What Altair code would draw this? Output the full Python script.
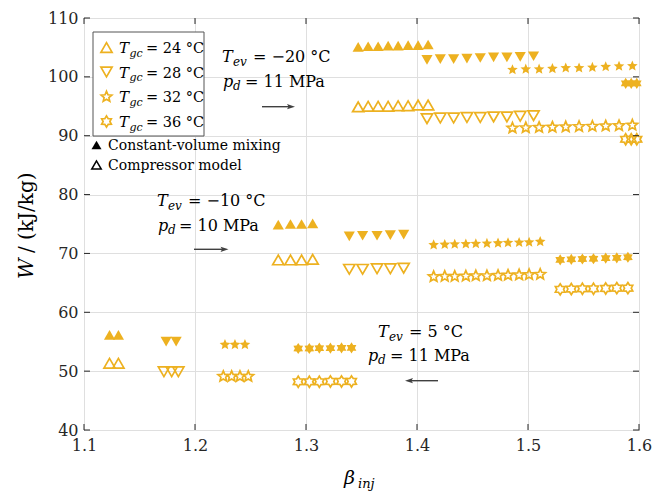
import math
import altair as alt
import pandas as pd

GOLD = "#EDB120"
INK = "#262626"
FONT = "DejaVu Serif"

# ---------------- data ----------------
TGC = ["24", "28", "32", "36"]

# T_ev = -20 °C, p_d = 11 MPa
b20_24 = [1.347, 1.356, 1.365, 1.374, 1.383, 1.392, 1.401, 1.410]
mix20_24 = [105.1, 105.2, 105.2, 105.3, 105.3, 105.4, 105.4, 105.5]
cmp20_24 = [94.9, 95.0, 95.0, 95.0, 95.1, 95.1, 95.2, 95.2]
b20_28 = [1.409, 1.421, 1.433, 1.445, 1.457, 1.469, 1.481, 1.493, 1.505]
mix20_28 = [102.9, 103.0, 103.0, 103.1, 103.2, 103.3, 103.3, 103.4, 103.5]
cmp20_28 = [92.9, 93.0, 93.0, 93.1, 93.1, 93.2, 93.2, 93.3, 93.4]
b20_32 = [1.486, 1.498, 1.510, 1.522, 1.534, 1.546, 1.558, 1.570, 1.582, 1.594]
mix20_32 = [101.2, 101.3, 101.3, 101.4, 101.5, 101.5, 101.6, 101.7, 101.8, 101.85]
cmp20_32 = [91.3, 91.35, 91.4, 91.45, 91.5, 91.55, 91.6, 91.65, 91.7, 91.8]
b20_36 = [1.588, 1.593, 1.598]
mix20_36 = [98.9, 98.9, 98.9]
cmp20_36 = [89.4, 89.4, 89.4]

# T_ev = -10 °C, p_d = 10 MPa
b10_24 = [1.275, 1.286, 1.296, 1.306]
mix10_24 = [74.9, 75.0, 75.0, 75.1]
cmp10_24 = [68.9, 68.9, 68.9, 69.0]
b10_28 = [1.339, 1.351, 1.364, 1.376, 1.388]
mix10_28 = [72.9, 73.0, 73.0, 73.1, 73.2]
cmp10_28 = [67.3, 67.3, 67.4, 67.4, 67.5]
b10_32 = [1.415, 1.425, 1.434, 1.444, 1.453, 1.463, 1.473, 1.482, 1.492, 1.501, 1.511]
mix10_32 = [71.45, 71.5, 71.55, 71.6, 71.65, 71.7, 71.75, 71.8, 71.85, 71.9, 72.0]
cmp10_32 = [66.05, 66.1, 66.1, 66.15, 66.2, 66.2, 66.25, 66.3, 66.35, 66.4, 66.45]
b10_36 = [1.529, 1.539, 1.549, 1.559, 1.570, 1.580, 1.590]
mix10_36 = [68.9, 69.0, 69.05, 69.1, 69.2, 69.25, 69.35]
cmp10_36 = [63.9, 63.95, 64.0, 64.0, 64.05, 64.1, 64.1]

# T_ev = 5 °C, p_d = 11 MPa
b5_24 = [1.123, 1.131]
mix5_24 = [56.15, 56.15]
cmp5_24 = [51.35, 51.35]
b5_28m = [1.174, 1.183]
mix5_28 = [55.0, 55.0]
b5_28c = [1.172, 1.179, 1.185]
cmp5_28 = [49.9, 49.9, 49.9]
b5_32m = [1.227, 1.236, 1.245]
mix5_32 = [54.5, 54.5, 54.5]
b5_32c = [1.2255, 1.233, 1.2405, 1.248]
cmp5_32 = [49.1, 49.1, 49.1, 49.1]
b5_36 = [1.293, 1.303, 1.312, 1.322, 1.332, 1.341]
mix5_36 = [53.85, 53.85, 53.9, 53.9, 53.95, 53.95]
cmp5_36 = [48.2, 48.2, 48.2, 48.25, 48.25, 48.25]

groups = [
    ("24", b20_24, mix20_24, b20_24, cmp20_24),
    ("28", b20_28, mix20_28, b20_28, cmp20_28),
    ("32", b20_32, mix20_32, b20_32, cmp20_32),
    ("36", b20_36, mix20_36, b20_36, cmp20_36),
    ("24", b10_24, mix10_24, b10_24, cmp10_24),
    ("28", b10_28, mix10_28, b10_28, cmp10_28),
    ("32", b10_32, mix10_32, b10_32, cmp10_32),
    ("36", b10_36, mix10_36, b10_36, cmp10_36),
    ("24", b5_24, mix5_24, b5_24, cmp5_24),
    ("28", b5_28m, mix5_28, b5_28c, cmp5_28),
    ("32", b5_32m, mix5_32, b5_32c, cmp5_32),
    ("36", b5_36, mix5_36, b5_36, cmp5_36),
]

X_TICKS = [1.1, 1.2, 1.3, 1.4, 1.5, 1.6]
Y_TICKS = [40, 50, 60, 70, 80, 90, 100, 110]

# ---------------- layout helpers ----------------
W, H = 555, 412
L, T = 84, 18


def dx(px):
    return 1.1 + (px - L) * 0.5 / W


def dy(py):
    return 110 - (py - T) * 70 / H


def star_path(n, r_in):
    pts = []
    for k in range(2 * n):
        ang = math.radians(-90 + k * 180 / n)
        r = 1.0 if k % 2 == 0 else r_in
        pts.append((r * math.cos(ang), r * math.sin(ang)))
    return "M" + "L".join(f"{x:.4f},{y:.4f}" for x, y in pts) + "Z"


STAR = star_path(5, 0.45)
HEX = star_path(6, 0.6)

mix_rows, cmp_rows = [], []
for tg, bm, wm, bc, wc in groups:
    for b, w in zip(bm, wm):
        mix_rows.append({"x": b, "y": w, "Tgc": tg})
    for b, w in zip(bc, wc):
        cmp_rows.append({"x": b, "y": w, "Tgc": tg})
df_mix = pd.DataFrame(mix_rows)
df_cmp = pd.DataFrame(cmp_rows)

xs = alt.Scale(domain=[1.1, 1.6], nice=False, zero=False)
ys = alt.Scale(domain=[40, 110], nice=False, zero=False)
shape_enc = alt.Shape("Tgc:N", scale=alt.Scale(domain=TGC, range=["triangle-up", "triangle-down", STAR, HEX]), legend=None)
size_enc = alt.Size("Tgc:N", scale=alt.Scale(domain=TGC, range=[125, 125, 250, 225]), legend=None)

x_axis = alt.Axis(values=X_TICKS, format=".1f", grid=True, ticks=False, tickSize=0, domain=False, title=None,
                  labelPadding=7, labelFlush=False, labelOverlap=False)
y_axis = alt.Axis(values=Y_TICKS, format="d", grid=True, ticks=False, tickSize=0, domain=False, title=None,
                  labelPadding=6, labelFlush=False, labelOverlap=False)
XE = alt.X("x:Q", scale=xs, axis=x_axis)
YE = alt.Y("y:Q", scale=ys, axis=y_axis)

filled = alt.Chart(df_mix).mark_point(filled=True, opacity=1, color=GOLD, strokeWidth=0).encode(
    x=XE, y=YE, shape=shape_enc, size=size_enc)
opened = alt.Chart(df_cmp).mark_point(filled=False, opacity=1, color=GOLD, strokeWidth=1.7).encode(
    x=XE, y=YE, shape=shape_enc, size=size_enc)

# inside ticks (box style)
dfxt = pd.DataFrame({"x": X_TICKS})
dfyt = pd.DataFrame({"y": Y_TICKS})
tk = dict(color=INK, strokeWidth=1)
ticks = [
    alt.Chart(dfxt).mark_rule(**tk).encode(x=XE, y=alt.value(H), y2=alt.value(H - 6)),
    alt.Chart(dfxt).mark_rule(**tk).encode(x=XE, y=alt.value(0), y2=alt.value(6)),
    alt.Chart(dfyt).mark_rule(**tk).encode(y=YE, x=alt.value(0), x2=alt.value(6)),
    alt.Chart(dfyt).mark_rule(**tk).encode(y=YE, x=alt.value(W), x2=alt.value(W - 6)),
]

# legend box + markers
leg_y = [47.5, 72.0, 96.8, 121.5]
df_box = pd.DataFrame([{"x": dx(93), "x2": dx(204), "y": dy(32), "y2": dy(136)}])
box = alt.Chart(df_box).mark_rect(fill="white", stroke="#555555", strokeWidth=1).encode(
    x=XE, x2="x2:Q", y=YE, y2="y2:Q")
df_legm = pd.DataFrame({"x": [dx(106.5)] * 4, "y": [dy(v) for v in leg_y], "Tgc": TGC})
leg_marks = alt.Chart(df_legm).mark_point(filled=False, opacity=1, color=GOLD, strokeWidth=1.7).encode(
    x=XE, y=YE, shape=shape_enc,
    size=alt.Size("Tgc:N", scale=alt.Scale(domain=TGC, range=[125, 125, 250, 225]), legend=None))
df_blk1 = pd.DataFrame({"x": [dx(96.5)], "y": [dy(145)]})
df_blk2 = pd.DataFrame({"x": [dx(96.5)], "y": [dy(165)]})
blk_f = alt.Chart(df_blk1).mark_point(shape="triangle-up", filled=True, color="black", opacity=1, size=100,
                                      strokeWidth=0).encode(x=XE, y=YE)
blk_o = alt.Chart(df_blk2).mark_point(shape="triangle-up", filled=False, color="black", opacity=1, size=90,
                                      strokeWidth=1.5).encode(x=XE, y=YE)

# arrows (start px, end px, y px)
arrows = [(262, 295, 106.7), (194, 228.5, 249.3), (438, 405, 380.7)]
ARROW_R = "M1,0L-1,-0.65L-0.6,0L-1,0.65Z"
ARROW_L = "M-1,0L1,-0.65L0.6,0L1,0.65Z"
shaft_rows, head_r, head_l = [], [], []
for s, e, y in arrows:
    sgn = 1 if e > s else -1
    shaft_rows.append({"x": dx(s), "x2": dx(e - 5 * sgn), "y": dy(y)})
    (head_r if sgn > 0 else head_l).append({"x": dx(e - 4 * sgn), "y": dy(y)})
ACOL = "#404040"
shafts = alt.Chart(pd.DataFrame(shaft_rows)).mark_rule(color=ACOL, strokeWidth=1.4).encode(
    x=XE, x2="x2:Q", y=YE)
heads_r = alt.Chart(pd.DataFrame(head_r)).mark_point(shape=ARROW_R, filled=True, color=ACOL, opacity=1, size=64,
                                                     strokeWidth=0).encode(x=XE, y=YE)
heads_l = alt.Chart(pd.DataFrame(head_l)).mark_point(shape=ARROW_L, filled=True, color=ACOL, opacity=1, size=64,
                                                     strokeWidth=0).encode(x=XE, y=YE)

# text pieces: (px, baseline py, text, font size, angle)
ital = []
reg = []
for yc, tg in zip(leg_y, TGC):
    ital.append((119, yc + 5.5, "T", 15, 0))
    ital.append((129.5, yc + 9, "gc", 11, 0))
    reg.append((146, yc + 5.5, f"= {tg} °C", 14.5, 0))
# annotations
ital += [(222, 62, "T", 16, 0), (233, 66, "ev", 12, 0), (223, 87, "p", 16, 0), (233, 90, "d", 12, 0)]
reg += [(253, 62, "= −20 °C", 16, 0), (245, 87, "= 11 MPa", 16, 0)]
ital += [(157, 206, "T", 16, 0), (168, 210, "ev", 12, 0), (158, 231, "p", 16, 0), (168, 234, "d", 12, 0)]
reg += [(188, 206, "= −10 °C", 16, 0), (179, 231, "= 10 MPa", 16, 0)]
ital += [(378, 337, "T", 16, 0), (389, 341, "ev", 12, 0), (368, 361, "p", 16, 0), (378, 364, "d", 12, 0)]
reg += [(409, 337, "= 5 °C", 16, 0), (390, 361, "= 11 MPa", 16, 0)]
# legend notes
reg += [(108, 150, "Constant-volume mixing", 14, 0), (108, 170, "Compressor model", 14, 0)]
# axis titles
ital += [(33, 279, "W", 20, 270), (344, 484, "β", 19, 0), (358, 488, "inj", 13, 0)]
reg += [(33, 253, "/ (kJ/kg)", 20, 270)]


def tdf(rows):
    return pd.DataFrame([{"x": dx(px), "y": dy(py), "t": t, "s": s, "a": a} for px, py, t, s, a in rows])


def text_layer(rows, style):
    return alt.Chart(tdf(rows)).mark_text(align="left", baseline="alphabetic", font=FONT, fontStyle=style,
                                          color="black").encode(
        x=XE, y=YE,
        text="t:N",
        size=alt.Size("s:Q", scale=None, legend=None),
        angle=alt.Angle("a:Q", scale=None, legend=None),
    )


chart = alt.layer(
    filled, opened, *ticks, box, leg_marks, blk_f, blk_o, shafts, heads_r, heads_l,
    text_layer(ital, "italic"), text_layer(reg, "normal"),
).properties(
    width=W, height=H,
    autosize=alt.AutoSizeParams(type="none"),
    padding={"left": L, "top": T, "right": 654 - L - W, "bottom": 494 - T - H},
    background="white",
).configure_view(
    stroke=INK, strokeWidth=1,
).configure_axis(
    labelFont=FONT, labelFontSize=16, labelColor=INK,
    gridColor="#dfdfdf", gridWidth=1,
)

chart.save("out.html", embed_options={"renderer": "svg", "actions": False})
